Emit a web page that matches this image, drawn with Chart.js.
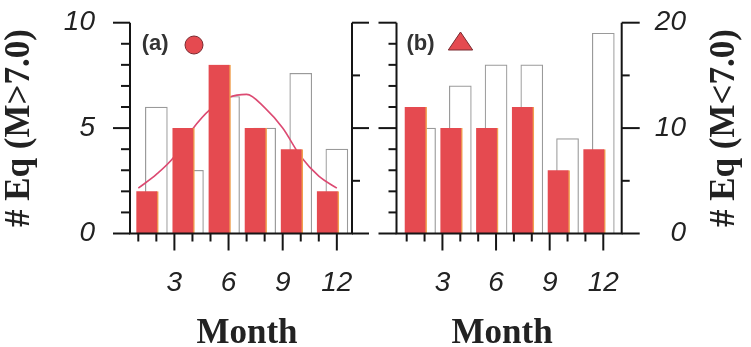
<!DOCTYPE html>
<html>
<head>
<meta charset="utf-8">
<script src="https://cdn.jsdelivr.net/npm/chart.js@4/dist/chart.umd.min.js"></script>
<style>
  html, body { margin: 0; padding: 0; background: #ffffff; }
  #wrap { position: relative; width: 751px; height: 347px; overflow: hidden; background: #ffffff; }
  canvas { position: absolute; top: 0; }
  #panelA { left: 0; }
  #panelB { left: 375px; }
</style>
</head>
<body>
<div id="wrap">
  <canvas id="panelA" width="375" height="347"></canvas>
  <canvas id="panelB" width="376" height="347"></canvas>
</div>
<script>
// Months and the two-month bins
const allMonths = [1, 2, 3, 4, 5, 6, 7, 8, 9, 10, 11, 12];
const monthTicks = [3, 6, 9, 12];
const binMid = [1.5, 3.5, 5.5, 7.5, 9.5, 11.5];
const binEnd = [2, 4, 6, 8, 10, 12];

// (a) large events, M > 7.0
const largeCounts = [2, 5, 8, 5, 4, 2];
const largeReference = [6, 3, 6.5, 5, 7.6, 4];
const largeFit = [2.15, 2.8, 3.65, 4.95, 5.9, 6.45, 6.6, 5.97, 5.0, 3.65, 2.72, 2.15];
const largeAxisTicks = [0, 5, 10];

// (b) smaller events, M < 7.0
const smallCounts = [12, 10, 10, 12, 6, 8];
const smallReference = [10, 14, 16, 16, 9, 19];
const smallAxisTicks = [0, 10, 20];

const RED = '#e54a50';
const RED_EDGE = '#f0a050';
const CURVE = '#dc4a72';
const OUTLINE = '#9a9a9a';
const INK = '#222222';
const FRAME = '#151515';

const tickFont = { family: "'Liberation Sans', Arial, sans-serif", size: 28, style: 'italic', lineHeight: 1 };
const titleFont = "bold 35px 'Liberation Serif', 'Times New Roman', serif";

const pairs = (xs, ys) => xs.map((x, i) => ({ x: x, y: ys[i] }));

function seg(ctx, x1, y1, x2, y2) {
  ctx.beginPath();
  ctx.moveTo(x1, y1);
  ctx.lineTo(x2, y2);
  ctx.stroke();
}

// Fixed scale size; the label overhang is already inside the page margins
function fixSize(prop, size) {
  return s => {
    s[prop] = size;
    s.paddingLeft = 0;
    s.paddingRight = 0;
    s.paddingTop = 0;
    s.paddingBottom = 0;
  };
}

// Axis frame, tick marks, panel tag and the titles drawn as text
const panelFrame = {
  id: 'panelFrame',
  afterDatasetsDraw(chart, args, o) {
    const { ctx, chartArea: a, scales: { x, y } } = chart;
    ctx.save();
    ctx.strokeStyle = FRAME;
    ctx.lineWidth = 2;
    ctx.lineCap = 'butt';
    ctx.lineJoin = 'miter';
    ctx.beginPath();
    ctx.moveTo(a.left, a.top);
    ctx.lineTo(a.left, a.bottom);
    ctx.lineTo(a.right, a.bottom);
    ctx.lineTo(a.right, a.top);
    ctx.stroke();

    // month ticks
    allMonths.forEach(m => {
      const px = x.getPixelForValue(m);
      const len = monthTicks.includes(m) ? 17 : 8;
      seg(ctx, px, a.bottom, px, a.bottom + len);
    });

    // side ticks
    const side = (spec, edge, dir) => {
      for (let v = y.min; v <= y.max + 1e-9; v += spec.step) {
        const py = y.getPixelForValue(v);
        const isMajor = Math.abs(v / spec.major - Math.round(v / spec.major)) < 1e-6;
        const len = isMajor ? spec.long : spec.short;
        seg(ctx, edge, py, edge + dir * len, py);
      }
    };
    side(o.left, a.left, -1);
    side(o.right, a.right, 1);

    // panel tag and marker
    ctx.fillStyle = '#333333';
    ctx.font = "bold 22px 'Liberation Sans', Arial, sans-serif";
    ctx.textAlign = 'left';
    ctx.textBaseline = 'middle';
    ctx.fillText(o.tag, a.left + o.tagDx, 43.5);
    ctx.fillStyle = RED;
    ctx.strokeStyle = '#7a2a30';
    ctx.lineWidth = 1;
    ctx.beginPath();
    if (o.marker === 'circle') {
      ctx.arc(a.left + o.markerDx, 45, 9, 0, Math.PI * 2);
    } else {
      const cx = a.left + o.markerDx;
      ctx.moveTo(cx, 32);
      ctx.lineTo(cx + 12.2, 50);
      ctx.lineTo(cx - 12.2, 50);
      ctx.closePath();
    }
    ctx.fill();
    ctx.stroke();

    // axis titles
    ctx.fillStyle = INK;
    ctx.font = titleFont;
    ctx.textAlign = 'center';
    ctx.textBaseline = 'alphabetic';
    ctx.fillText('Month', (a.left + a.right) / 2 + o.monthDx, 343);
    if (o.rightTitle) {
      ctx.save();
      ctx.translate(o.rightTitleX, (a.top + a.bottom) / 2);
      ctx.rotate(-Math.PI / 2);
      ctx.textBaseline = 'middle';
      ctx.fillText(o.rightTitle, 0, 0);
      ctx.restore();
    }
    ctx.restore();
  }
};

function barSet(label, xs, ys, fill, order) {
  const filled = fill === RED;
  return {
    label: label,
    data: pairs(xs, ys),
    backgroundColor: fill,
    borderColor: filled ? RED_EDGE : OUTLINE,
    borderWidth: filled ? { top: 0, left: 0, right: 1.5, bottom: 0 } : 1.2,
    borderSkipped: 'start',
    barThickness: 22,
    grouped: false,
    order: order
  };
}

const hiddenGrid = { display: false, drawTicks: false };

// Panel (a)
new Chart(document.getElementById('panelA'), {
  type: 'bar',
  data: {
    datasets: [
      barSet('M>7.0', binMid, largeCounts, RED, 0),
      {
        type: 'line',
        label: 'fit',
        data: pairs(allMonths, largeFit),
        borderColor: CURVE,
        borderWidth: 1.6,
        pointRadius: 0,
        cubicInterpolationMode: 'monotone',
        fill: false,
        order: 1
      },
      barSet('reference', binEnd, largeReference, '#ffffff', 2)
    ]
  },
  options: {
    responsive: false,
    animation: false,
    events: [],
    layout: { padding: { top: 22.7, right: 23, bottom: 0, left: 0 } },
    plugins: {
      legend: { display: false },
      tooltip: { enabled: false },
      panelFrame: {
        left: { step: 1, major: 5, long: 17, short: 9 },
        right: { step: 2.5, major: 5, long: 17, short: 8 },
        tag: '(a)', tagDx: 11.7, marker: 'circle', markerDx: 64, monthDx: 6
      }
    },
    scales: {
      x: {
        type: 'linear', min: 0.54, max: 12.84, offset: false,
        grid: hiddenGrid, border: { display: false },
        afterBuildTicks: s => { s.ticks = monthTicks.map(v => ({ value: v })); },
        afterFit: fixSize('height', 113.5),
        ticks: { font: tickFont, color: INK, padding: 36, maxRotation: 0, autoSkip: false }
      },
      y: {
        position: 'left', min: 0, max: 10,
        grid: hiddenGrid, border: { display: false },
        afterBuildTicks: s => { s.ticks = largeAxisTicks.map(v => ({ value: v })); },
        afterFit: fixSize('width', 130),
        ticks: { font: tickFont, color: INK, padding: 35 },
        title: {
          display: true, text: '# Eq (M>7.0)', color: INK,
          font: { family: "'Liberation Serif', 'Times New Roman', serif", size: 35, weight: 'bold', lineHeight: 1 },
          padding: { top: 2.5, bottom: 0 }
        }
      }
    }
  },
  plugins: [panelFrame]
});

// Panel (b)
new Chart(document.getElementById('panelB'), {
  type: 'bar',
  data: {
    datasets: [
      barSet('M<7.0', binMid, smallCounts, RED, 0),
      barSet('reference', binEnd, smallReference, '#ffffff', 2)
    ]
  },
  options: {
    responsive: false,
    animation: false,
    events: [],
    layout: { padding: { top: 22.7, right: 65, bottom: 0, left: 21.5 } },
    plugins: {
      legend: { display: false },
      tooltip: { enabled: false },
      panelFrame: {
        left: { step: 2, major: 10, long: 18, short: 8 },
        right: { step: 5, major: 10, long: 18, short: 8 },
        tag: '(b)', tagDx: 10, marker: 'triangle', markerDx: 64, monthDx: -7,
        rightTitle: '# Eq (M<7.0)', rightTitleX: 349.5
      }
    },
    scales: {
      x: {
        type: 'linear', min: 0.43, max: 13.03, offset: false,
        grid: hiddenGrid, border: { display: false },
        afterBuildTicks: s => { s.ticks = monthTicks.map(v => ({ value: v })); },
        afterFit: fixSize('height', 113.5),
        ticks: { font: tickFont, color: INK, padding: 36, maxRotation: 0, autoSkip: false }
      },
      y: {
        position: 'right', min: 0, max: 20,
        grid: hiddenGrid, border: { display: false },
        afterBuildTicks: s => { s.ticks = smallAxisTicks.map(v => ({ value: v })); },
        afterFit: fixSize('width', 64.3),
        ticks: { font: tickFont, color: INK, padding: 20, crossAlign: 'far' }
      }
    }
  },
  plugins: [panelFrame]
});
</script>
</body>
</html>
